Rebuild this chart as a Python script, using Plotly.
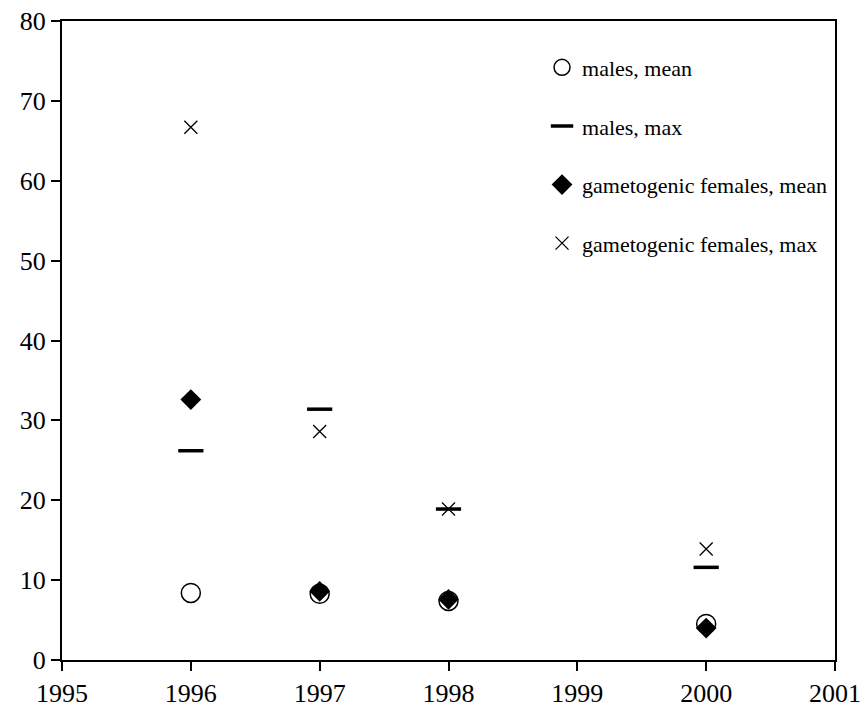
import plotly.graph_objects as go

years = [1996, 1997, 1998, 2000]
males_mean = [8.4, 8.3, 7.4, 4.5]
males_max = [26.2, 31.4, 18.9, 11.6]
gf_mean = [32.6, 8.6, 7.6, 4.0]
gf_max = [66.7, 28.6, 18.9, 13.9]

x_ticks = [1995, 1996, 1997, 1998, 1999, 2000, 2001]
y_ticks = [0, 10, 20, 30, 40, 50, 60, 70, 80]

FONT = "Liberation Serif, Times New Roman, serif"

fig = go.Figure()
fig.add_trace(go.Scatter(x=years, y=males_mean, mode="markers", name="males, mean",
                         legendgroup="a",
                         marker=dict(symbol="circle-open", size=19, color="black",
                                     line=dict(width=1.5, color="black"))))
fig.add_trace(go.Scatter(x=years, y=males_max, mode="markers", name="males, max",
                         legendgroup="b",
                         marker=dict(symbol="line-ew-open", size=18, color="black",
                                     line=dict(width=3.5, color="black"))))
fig.add_trace(go.Scatter(x=years, y=gf_mean, mode="markers", name="gametogenic females, mean",
                         legendgroup="c",
                         marker=dict(symbol="diamond", size=16, color="black",
                                     line=dict(width=0))))
fig.add_trace(go.Scatter(x=years, y=gf_max, mode="markers", name="gametogenic females, max",
                         legendgroup="d",
                         marker=dict(symbol="x-thin-open", size=13, color="black",
                                     line=dict(width=1.3, color="black"))))

axis_common = dict(showline=True, linecolor="black", linewidth=2, mirror=True,
                   ticks="outside", ticklen=9, tickwidth=1.5, tickcolor="black",
                   showgrid=False, zeroline=False, automargin=False,
                   tickfont=dict(family=FONT, size=26, color="black"))

fig.update_xaxes(range=[1995, 2001], tickvals=x_ticks, ticktext=[str(v) for v in x_ticks],
                 **axis_common)
fig.update_yaxes(range=[0, 80], tickvals=y_ticks, ticktext=[str(v) for v in y_ticks],
                 **axis_common)

fig.update_layout(
    width=862, height=709,
    margin=dict(l=62, r=27, t=21, b=49, autoexpand=False),
    plot_bgcolor="white", paper_bgcolor="white",
    font=dict(family=FONT, color="black"),
    legend=dict(x=0.621, y=0.96, xanchor="left", yanchor="top",
                bgcolor="rgba(0,0,0,0)", borderwidth=0,
                font=dict(family=FONT, size=22, color="black"),
                tracegroupgap=27, itemsizing="trace"),
)

fig.write_html("out.html",
               config={"displayModeBar": False},
               post_script="document.body.style.margin='0';document.body.style.overflow='hidden';")
